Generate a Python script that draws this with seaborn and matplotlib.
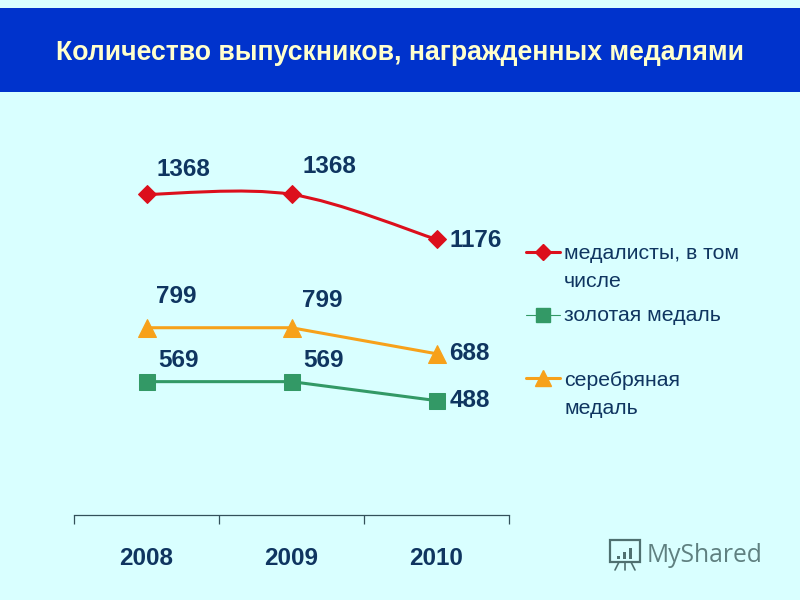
import matplotlib
matplotlib.use("Agg")
import matplotlib.pyplot as plt
from matplotlib.lines import Line2D
from matplotlib.patches import PathPatch, Rectangle
from matplotlib.path import Path
import numpy as np
import pandas as pd
import seaborn as sns

# chart data
years = [2008, 2009, 2010]
medalists = [1368, 1368, 1176]
gold = [569, 569, 488]
silver = [799, 799, 688]

title = "Количество выпускников, награжденных медалями"
medalists_label = "медалисты, в том\nчисле"
gold_label = "золотая медаль"
silver_label = "серебряная\nмедаль"

BG = "#D9FFFF"
BANNER = "#0033CC"
TITLE_COLOR = "#FFFFCC"
NAVY = "#0F3560"
RED = "#DC0F1C"
GREEN = "#339966"
ORANGE = "#F7A11A"
WIDTH, HEIGHT = 800, 600


def fx(px):
    return px / WIDTH


def fy(px):
    return 1 - px / HEIGHT


def smooth_path(x, y):
    """Bezier through the points, like a smoothed office line"""
    x = np.asarray(x, dtype=float)
    y = np.asarray(y, dtype=float)
    verts = [(x[0], y[0])]
    codes = [Path.MOVETO]
    n = len(x)
    for i in range(n - 1):
        prev_i, next_i = max(i - 1, 0), min(i + 2, n - 1)
        c1 = (x[i] + (x[i + 1] - x[prev_i]) / 6, y[i] + (y[i + 1] - y[prev_i]) / 6)
        c2 = (x[i + 1] - (x[next_i] - x[i]) / 6, y[i + 1] - (y[next_i] - y[i]) / 6)
        verts += [c1, c2, (x[i + 1], y[i + 1])]
        codes += [Path.CURVE4] * 3
    return Path(verts, codes)


sns.set_theme(style="white", rc={"figure.facecolor": BG, "axes.facecolor": BG})
plt.rcParams["font.family"] = ["Liberation Sans", "DejaVu Sans"]

fig = plt.figure(figsize=(8, 6), dpi=100)
fig.patch.set_facecolor(BG)
ax = fig.add_axes([fx(74), fy(515), fx(509 - 74), fy(140) - fy(515)])
ax.patch.set_alpha(0)

# banner
fig.add_artist(Rectangle((0, fy(92)), 1, fy(8) - fy(92), transform=fig.transFigure,
                         facecolor=BANNER, edgecolor="none"))
fig.text(fx(400), fy(53), title, color=TITLE_COLOR, fontsize=19.2, fontweight="bold",
         ha="center", va="center")

positions = list(range(len(years)))
series = [
    (medalists, RED, "D", 9.6, True, [(37, 25), (38, 28), (39, -1)]),
    (silver, ORANGE, "^", 13, False, [(30, 31), (31, 27), (33, 0)]),
    (gold, GREEN, "s", 11, False, [(32, 21), (32, 21), (33, 0)]),
]

for values, color, marker, size, smooth, offsets in series:
    frame = pd.DataFrame({"pos": positions, "value": values})
    sns.lineplot(data=frame, x="pos", y="value", color=color, marker=marker, markersize=size,
                 markeredgecolor=color, linewidth=2.2, linestyle="" if smooth else "-", ax=ax,
                 zorder=4)
    if smooth:
        ax.add_patch(PathPatch(smooth_path(positions, values), facecolor="none", edgecolor=color,
                               linewidth=2.2, zorder=3, capstyle="round"))
    for p, v, off in zip(positions, values, offsets):
        ax.annotate(str(v), (p, v), xytext=(off[0] * 0.72, off[1] * 0.72),
                    textcoords="offset points", ha="center", va="center",
                    color=NAVY, fontsize=17.5, fontweight="bold")

ax.set_xlim(-0.5, 2.5)
ax.set_ylim(0, 1600)
ax.set_xlabel("")
ax.set_ylabel("")
ax.set_yticks([])
ax.set_xticks([-0.5, 0.5, 1.5, 2.5])
ax.set_xticklabels([])
ax.set_xticks(positions, minor=True)
ax.set_xticklabels([str(y) for y in years], minor=True, fontsize=17.5, fontweight="bold",
                   color=NAVY)
ax.tick_params(axis="x", which="major", direction="out", length=6.5, width=0.9, color="#33505A",
               bottom=True)
ax.tick_params(axis="x", which="minor", length=0, pad=23)
for name in ["top", "left", "right"]:
    ax.spines[name].set_visible(False)
ax.spines["bottom"].set_color("#33505A")
ax.spines["bottom"].set_linewidth(0.9)

# legend, entries are unevenly spaced in the original so placed one by one
legend_rows = [
    (medalists_label, RED, "D", 8, 2.2, 252, 267),
    (gold_label, GREEN, "s", 10, 0.8, 315, 316),
    (silver_label, ORANGE, "^", 11, 2.2, 378, 394),
]
for label, color, marker, size, lw, handle_y, text_y in legend_rows:
    fig.add_artist(Line2D([fx(526), fx(560)], [fy(handle_y)] * 2, color=color, linewidth=lw,
                          transform=fig.transFigure))
    fig.add_artist(Line2D([fx(543)], [fy(handle_y)], color=color, marker=marker, markersize=size,
                          markeredgecolor=color, linestyle="", transform=fig.transFigure))
    fig.text(fx(564), fy(text_y), label, color=NAVY, fontsize=15.3, ha="left", va="center",
             linespacing=1.6)

# watermark
fig.text(fx(647), fy(555), "MyShared", color="#5F8080", fontsize=17.7, family="Open Sans",
         ha="left", va="center")
fig.add_artist(Rectangle((fx(610), fy(562)), fx(30), fy(540) - fy(562), transform=fig.transFigure,
                         facecolor="none", edgecolor="#4F7070", linewidth=1.6))
for bar_x, top in [(617, 556), (623, 552), (629, 548)]:
    fig.add_artist(Rectangle((fx(bar_x), fy(559)), fx(3), fy(top) - fy(559),
                             transform=fig.transFigure, facecolor="#4F7070", edgecolor="none"))
for x0, x1 in [(619, 615), (625, 625), (631, 635)]:
    fig.add_artist(Line2D([fx(x0), fx(x1)], [fy(562), fy(570)], color="#4F7070", linewidth=1.2,
                          transform=fig.transFigure))

fig.savefig("out.png", dpi=100, facecolor=fig.get_facecolor())
